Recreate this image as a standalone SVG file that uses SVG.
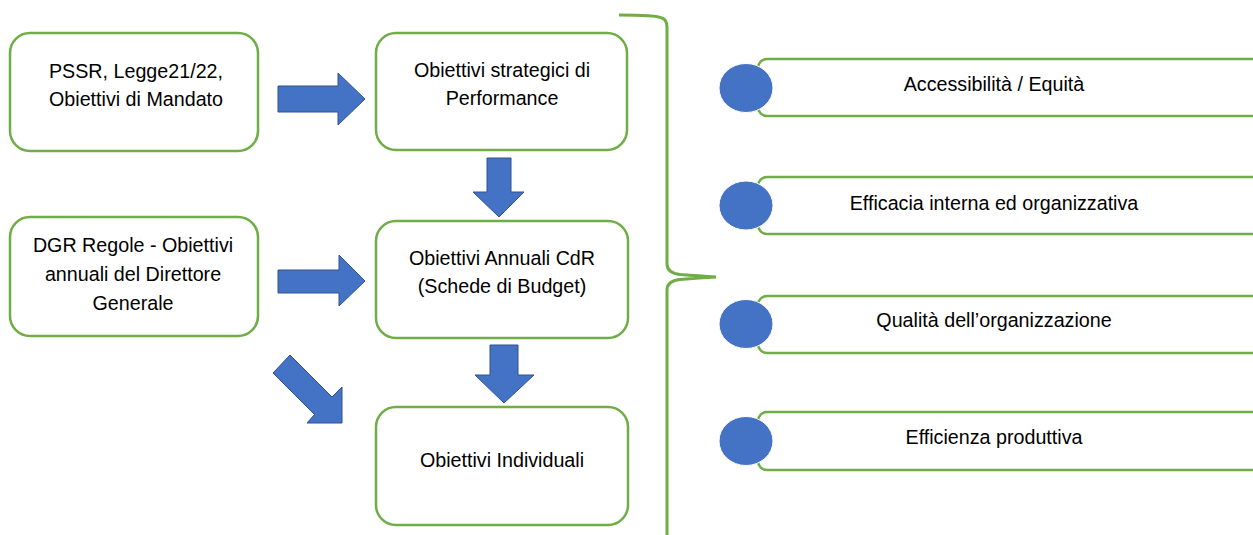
<svg xmlns="http://www.w3.org/2000/svg" width="1253" height="535" viewBox="0 0 1253 535">
<style>
.box{fill:#fff;stroke:#70AD47;stroke-width:2.5}
.arr{fill:#4472C4;stroke:#2F528F;stroke-width:1}
.dot{fill:#4472C4;stroke:#fff;stroke-width:1}
.br{fill:none;stroke:#70AD47;stroke-width:3}
text{font-family:"Liberation Sans",Arial,sans-serif;font-size:19.7px;fill:#000;text-anchor:middle}
</style>
<rect width="1253" height="535" fill="#fff"/>
<g id="n-pssr">
<rect class="box" x="10" y="33" width="248" height="118" rx="20"/>
<text x="136" y="78">PSSR, Legge21/22,</text>
<text x="136" y="106">Obiettivi di Mandato</text>
</g>
<g id="n-strategici">
<rect class="box" x="376" y="33" width="251" height="117" rx="20"/>
<text x="502" y="77">Obiettivi strategici di</text>
<text x="502" y="105">Performance</text>
</g>
<g id="n-dgr">
<rect class="box" x="10" y="217" width="248" height="119" rx="20"/>
<text x="133" y="252">DGR Regole - Obiettivi</text>
<text x="133" y="281">annuali del Direttore</text>
<text x="133" y="310">Generale</text>
</g>
<g id="n-annuali">
<rect class="box" x="376" y="221" width="252" height="117" rx="20"/>
<text x="502" y="265">Obiettivi Annuali CdR</text>
<text x="502" y="293">(Schede di Budget)</text>
</g>
<g id="n-individuali">
<rect class="box" x="376" y="407" width="252" height="118" rx="20"/>
<text x="502" y="467">Obiettivi Individuali</text>
</g>
<g id="n-accessibilita">
<rect class="box" x="758" y="59" width="520" height="57" rx="9"/>
<ellipse class="dot" cx="746" cy="88" rx="27" ry="24.5"/>
<text x="994" y="91">Accessibilità / Equità</text>
</g>
<g id="n-efficacia">
<rect class="box" x="758" y="177" width="520" height="57" rx="9"/>
<ellipse class="dot" cx="746" cy="205.5" rx="27" ry="24.5"/>
<text x="994" y="210">Efficacia interna ed organizzativa</text>
</g>
<g id="n-qualita">
<rect class="box" x="758" y="296" width="520" height="57" rx="9"/>
<ellipse class="dot" cx="746" cy="324" rx="27" ry="24.5"/>
<text x="994" y="327">Qualità dell’organizzazione</text>
</g>
<g id="n-efficienza">
<rect class="box" x="758" y="412" width="520" height="58" rx="9"/>
<ellipse class="dot" cx="746" cy="441" rx="27" ry="24.5"/>
<text x="994" y="444">Efficienza produttiva</text>
</g>
<g id="connectors">
<polygon class="arr" points="278,86 338,86 338,73 365,99 338,125 338,112 278,112"/>
<polygon class="arr" points="278,270 339,270 339,255 365,281 339,306 339,293 278,293"/>
<polygon class="arr" points="487,158 511,158 511,192 524,192 499,217 473,192 487,192"/>
<polygon class="arr" points="490,345 518,345 518,375 534,375 504,403 475,375 490,375"/>
<polygon class="arr" points="290,355 332,397 342,387 342,423 307,423 314.5,414.5 273,373"/>
<path class="br" d="M619,15 Q656,15 662,18 Q667,20 667,27 V264 Q667,273 680,274.5 Q700,276 716,277 Q700,278 680,279.5 Q667,281 667,290 V535"/>
</g>
</svg>
